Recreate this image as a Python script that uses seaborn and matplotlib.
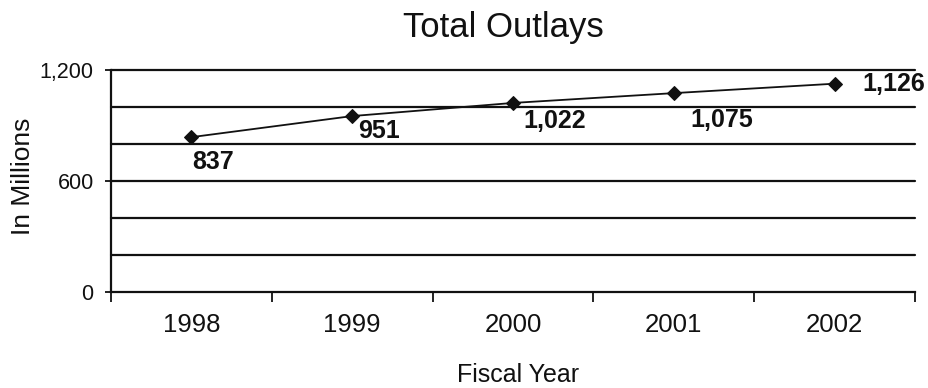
import matplotlib
matplotlib.use("Agg")
import matplotlib.pyplot as plt
from matplotlib.ticker import FixedLocator, NullFormatter
import seaborn as sns
import pandas as pd

# Total outlays by fiscal year, in millions
years = ["1998", "1999", "2000", "2001", "2002"]
outlays = [837, 951, 1022, 1075, 1126]
value_labels = ["837", "951", "1,022", "1,075", "1,126"]
y_ticks = [0, 600, 1200]
y_tick_labels = ["0", "600", "1,200"]
grid_levels = [200, 400, 600, 800, 1000, 1200]

# label offsets (pixels) relative to each marker
label_offsets = [(1, -25), (6, -15), (10, -18), (17, -27), (28, 0)]

sns.set_theme(style="white")
plt.rcParams["font.family"] = ["Liberation Sans", "DejaVu Sans"]

df = pd.DataFrame({"pos": range(len(years)), "year": years, "outlays": outlays})

fig = plt.figure(figsize=(9.29, 3.88), dpi=100)
ax = fig.add_axes([111 / 929, 1 - 292 / 388, (915 - 111) / 929, (292 - 70) / 388])

ink = "#111111"

for lvl in grid_levels:
    ax.axhline(lvl, color=ink, lw=1.6, zorder=1, clip_on=False)

sns.lineplot(data=df, x="pos", y="outlays", ax=ax, color=ink, lw=1.3,
             marker="D", markersize=7.5, markeredgecolor=ink,
             markerfacecolor=ink, zorder=3)

for i, (v, lab, off) in enumerate(zip(outlays, value_labels, label_offsets)):
    ax.annotate(lab, (i, v), xytext=off, textcoords="offset pixels",
                ha="left", va="center", fontsize=18, fontweight="bold",
                color=ink, zorder=4)

ax.set_xlim(-0.5, len(years) - 0.5)
ax.set_ylim(0, 1200)

ax.set_xticks(range(len(years)))
ax.set_xticklabels(years, fontsize=18.5, color=ink)
ax.xaxis.set_minor_locator(FixedLocator([i - 0.5 for i in range(len(years) + 1)]))
ax.xaxis.set_minor_formatter(NullFormatter())
ax.tick_params(axis="x", which="major", length=0, pad=15)
ax.tick_params(axis="x", which="minor", length=7, width=1.3, color=ink,
               direction="out", bottom=True)

ax.set_yticks(y_ticks)
ax.set_yticklabels(y_tick_labels, fontsize=15.5, color=ink)
ax.tick_params(axis="y", which="major", length=4.5, width=1.3, color=ink,
               direction="out", left=True, pad=8)

for side in ["top", "right"]:
    ax.spines[side].set_visible(False)
for side in ["left", "bottom"]:
    ax.spines[side].set_color(ink)
    ax.spines[side].set_linewidth(1.6)

ax.set_xlabel("")
ax.set_ylabel("")

fig.text(503.5 / 929, 1 - 37 / 388, "Total Outlays", ha="center",
         va="baseline", fontsize=25, color=ink)
fig.text(518.5 / 929, 1 - 382 / 388, "Fiscal Year", ha="center",
         va="baseline", fontsize=18, color=ink)
fig.text(23 / 929, 1 - 176 / 388, "In Millions", ha="center", va="center",
         rotation=90, fontsize=19, color=ink)

fig.savefig("out.png", dpi=100)
